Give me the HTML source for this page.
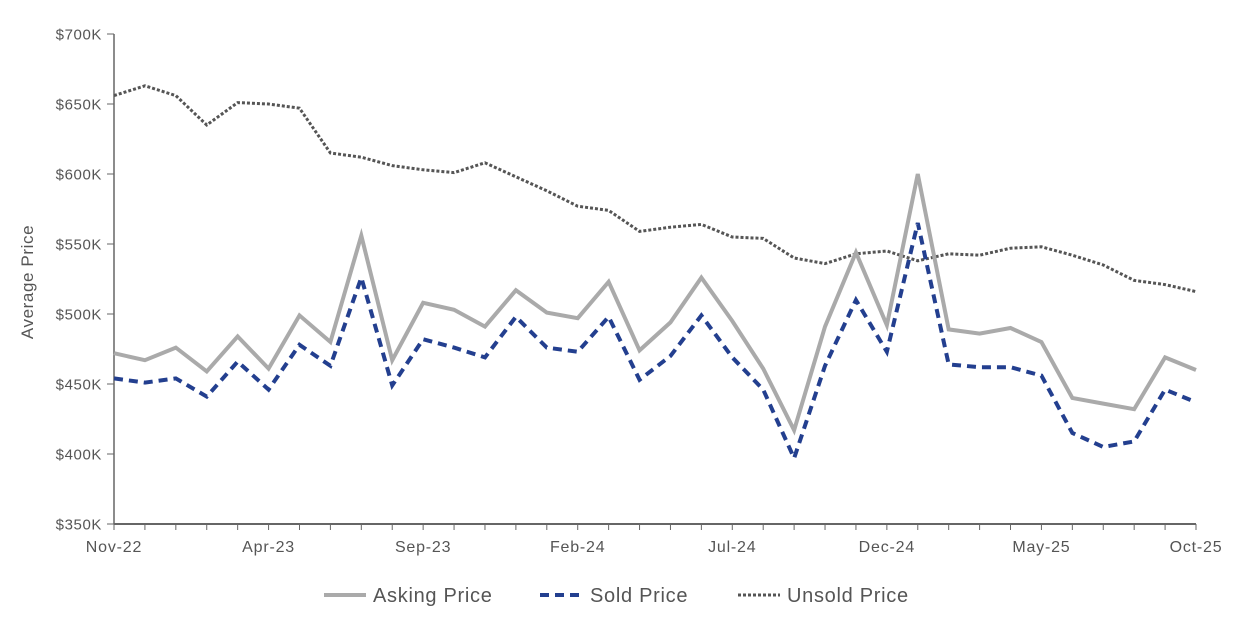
<!DOCTYPE html>
<html><head><meta charset="utf-8"><style>
body{margin:0;background:#fff;font-family:"Liberation Sans",sans-serif}
svg text{font-family:"Liberation Sans",sans-serif;fill:#555}
</style></head><body>
<svg id="c" width="1255" height="637"></svg>
<script>
const months=["Nov-22","Dec-22","Jan-23","Feb-23","Mar-23","Apr-23","May-23","Jun-23","Jul-23","Aug-23","Sep-23","Oct-23","Nov-23","Dec-23","Jan-24","Feb-24","Mar-24","Apr-24","May-24","Jun-24","Jul-24","Aug-24","Sep-24","Oct-24","Nov-24","Dec-24","Jan-25","Feb-25","Mar-25","Apr-25","May-25","Jun-25","Jul-25","Aug-25","Sep-25","Oct-25"];
const asking=[472,467,476,459,484,461,499,480,556,467,508,503,491,517,501,497,523,474,494,526,495,461,417,491,544,492,600,489,486,490,480,440,436,432,469,460];
const sold=[454,451,454,441,466,446,478,463,526,449,482,476,469,498,476,473,498,453,470,499,469,446,397,463,510,473,565,464,462,462,456,415,405,409,446,437];
const unsold=[656,663,656,635,651,650,647,615,612,606,603,601,608,598,588,577,574,559,562,564,555,554,540,536,543,545,538,543,542,547,548,542,535,524,521,516];
const yTicks=[350,400,450,500,550,600,650,700];
const xLabelIdx=[0,5,10,15,20,25,30,35];
const NS="http://www.w3.org/2000/svg",svg=document.getElementById('c');
const X0=114,X1=1196,Y0=524,Y1=34;
const x=i=>X0+i*(X1-X0)/(months.length-1);
const y=v=>Y0-(v-350)*(Y0-Y1)/350;
function mk(t,a,p){const e=document.createElementNS(NS,t);for(const k in a)e.setAttribute(k,a[k]);(p||svg).appendChild(e);return e;}
let e;
e=mk('line',{x1:X0,y1:Y1,x2:X0,y2:Y0,stroke:'#666','stroke-width':1.5});


e=mk('line',{x1:X0,y1:Y0,x2:X1,y2:Y0,stroke:'#666','stroke-width':2});


yTicks.forEach(v=>{
 mk('line',{x1:X0-7,y1:y(v),x2:X0,y2:y(v),stroke:'#666'});
 e=mk('text',{x:X0-12,y:y(v)+5.5,'text-anchor':'end','font-size':15,'letter-spacing':'0.6'});
 e.textContent='$'+v+'K';
 
 
});
months.forEach((m,i)=>{
 mk('line',{x1:x(i),y1:Y0,x2:x(i),y2:Y0+6,stroke:'#666'});
});
xLabelIdx.forEach(i=>{
 e=mk('text',{x:x(i),y:Y0+28,'text-anchor':'middle','font-size':16,'letter-spacing':'0.8'});
 e.textContent=months[i];
 
 
});
e=mk('text',{x:33,y:282,'text-anchor':'middle','font-size':17,transform:'rotate(-90 33 282)','letter-spacing':'0.6'});
e.textContent='Average Price';


const series=[[unsold,'#555',3,'3 2','unsold-price-line'],[asking,'#aaa',4,'','asking-price-line'],[sold,'#233f8f',4,'9 6','sold-price-line']];
series.forEach(s=>{
 const a={d:s[0].map((v,i)=>(i?'L':'M')+x(i)+' '+y(v)).join(''),fill:'none',stroke:s[1],'stroke-width':s[2]};
 if(s[3])a['stroke-dasharray']=s[3];
 e=mk('path',a);
 
 
});
const leg=[[324,373,'#aaa',4,'','Asking Price','legend-asking'],[540,590,'#233f8f',4,'9 6','Sold Price','legend-sold'],[738,787,'#555',3,'3 2','Unsold Price','legend-unsold']];
leg.forEach(l=>{
 const g=mk('g',{});
 
 
 const a={x1:l[0],y1:595,x2:l[0]+42,y2:595,stroke:l[2],'stroke-width':l[3]};
 if(l[4])a['stroke-dasharray']=l[4];
 mk('line',a,g);
 const t=mk('text',{x:l[1],y:602,'font-size':20,'letter-spacing':'0.7'},g);t.textContent=l[5];
});
</script>
</body></html>
